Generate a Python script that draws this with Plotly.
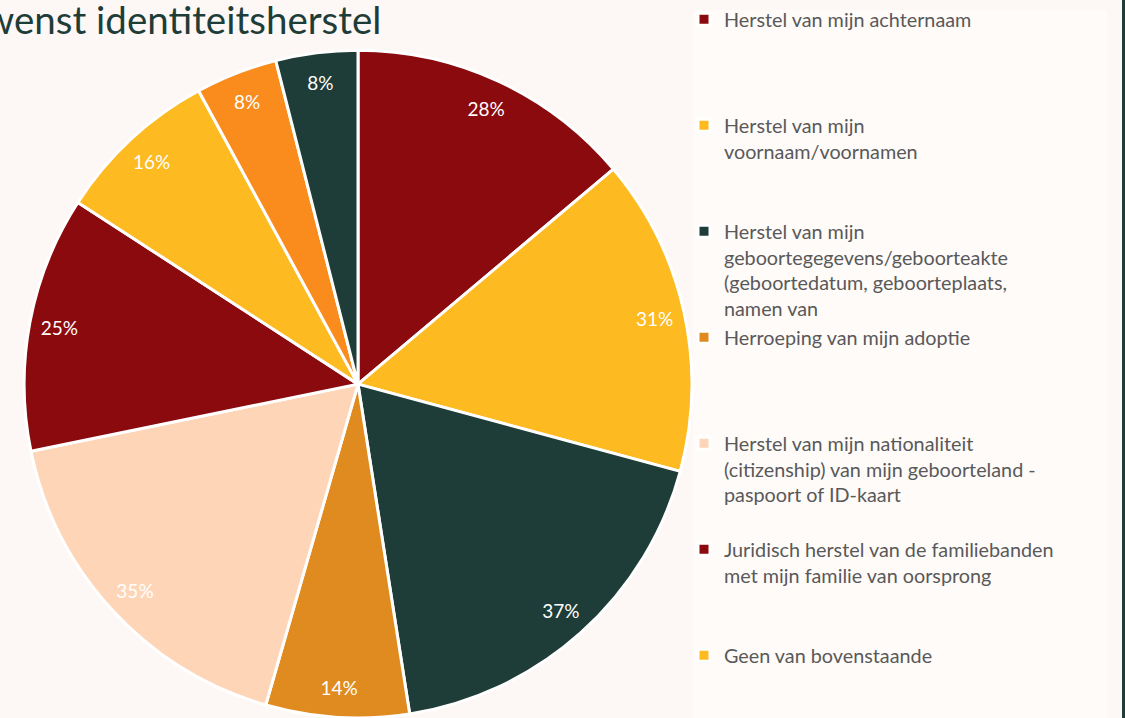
import plotly.graph_objects as go

# ---- data ----
labels = [
    "Herstel van mijn achternaam",
    "Herstel van mijn<br>voornaam/voornamen",
    "Herstel van mijn<br>geboortegegevens/geboorteakte<br>(geboortedatum, geboorteplaats,<br>namen van",
    "Herroeping van mijn adoptie",
    "Herstel van mijn nationaliteit<br>(citizenship) van mijn geboorteland -<br>paspoort of ID-kaart",
    "Juridisch herstel van de familiebanden<br>met mijn familie van oorsprong",
    "Geen van bovenstaande",
    "Anders",
    "Weet ik niet",
]
values = [28, 31, 37, 14, 35, 25, 16, 8, 8]
colors = ["#8B0A0E", "#FDBA21", "#1F3D38", "#E08B20", "#FFD5B8",
          "#8B0A0E", "#FDBA21", "#FA8C1E", "#1F3D38"]
title_text = "wenst identiteitsherstel"

# ---- layout helpers ----
W, H = 1125, 718
LEGEND_LINES = 4


def pad(label, n=LEGEND_LINES):
    k = label.count("<br>") + 1
    return label + "<br>\u00a0" * max(0, n - k)


padded = [pad(l) for l in labels]
pct_text = [f"{v}%" for v in values]

domain = dict(x=[24 / W, 692 / W], y=[0, 0.93])

fig = go.Figure()
fig.add_trace(go.Pie(
    labels=padded, values=values, sort=False, direction="clockwise",
    rotation=0, domain=domain,
    marker=dict(colors=colors, line=dict(color="#FFFFFF", width=3)),
    textinfo="none", showlegend=True,
    hovertemplate="%{label}: %{value}%<extra></extra>",
))
# text ring: places the percentage labels near the outer edge of each slice
fig.add_trace(go.Pie(
    labels=padded, values=values, sort=False, direction="clockwise",
    rotation=0, domain=domain, hole=0.82,
    marker=dict(colors=["rgba(0,0,0,0)"] * len(values), line=dict(width=0)),
    text=pct_text, texttemplate="%{text}", textposition="inside",
    insidetextorientation="horizontal",
    textfont=dict(family="Lato", size=19, color="#FFFFFF"),
    showlegend=False, hoverinfo="skip",
))

fig.update_layout(
    width=W, height=H,
    margin=dict(l=0, r=0, t=0, b=0, autoexpand=False),
    paper_bgcolor="#FDF8F5",
    plot_bgcolor="#FDF8F5",
    font=dict(family="Lato", color="#595959"),
    legend=dict(
        xref="container", yref="container",
        x=684 / W, y=1.0215, xanchor="left", yanchor="top",
        valign="top", traceorder="normal",
        font=dict(family="Lato", size=19.8, color="#595959"),
        bgcolor="rgba(0,0,0,0)", maxheight=1200,
    ),
    annotations=[dict(
        text=title_text, xref="paper", yref="paper",
        x=383 / W, y=1.0, xanchor="right", yanchor="top", yshift=6,
        showarrow=False,
        font=dict(family="Lato", size=38.5, color="#1F3D38", weight=400),
    )],
    shapes=[
        dict(type="rect", xref="paper", yref="paper",
             x0=693 / W, x1=1107 / W, y0=0, y1=(H - 10) / H,
             fillcolor="#FFFBF9", line=dict(width=0), layer="below"),
        dict(type="rect", xref="paper", yref="paper",
             x0=1122 / W, x1=1.0, y0=0, y1=1,
             fillcolor="#1F3D38", line=dict(width=0), layer="below"),
    ],
)

fig.write_html(
    "out.html",
    config={"displayModeBar": False},
    post_script="document.body.style.margin='0';document.body.style.overflow='hidden';",
)
